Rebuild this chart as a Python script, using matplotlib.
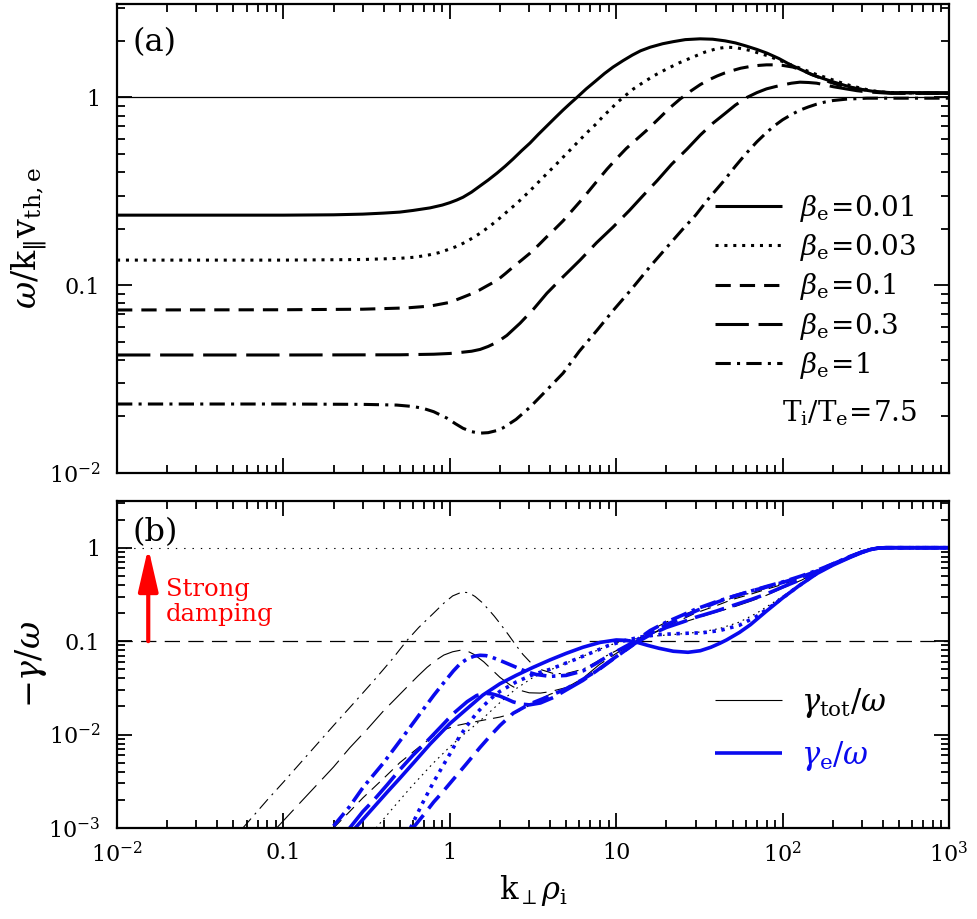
import numpy as np
import matplotlib.pyplot as plt
from matplotlib.ticker import LogLocator, FuncFormatter, NullFormatter

plt.rcParams.update({'font.family': 'DejaVu Serif', 'mathtext.fontset': 'dejavuserif',
                     'lines.scale_dashes': False, 'font.size': 16,
                     'xtick.top': True, 'ytick.right': True,
                     'xtick.direction': 'in', 'ytick.direction': 'in'})

#%%
""" panel (a): omega / k_par v_th,e """
betas = ['0.01', '0.03', '0.1', '0.3', '1']

k_a1 = [0.01, 0.1, 0.2, 0.3, 0.4, 0.5, 0.6, 0.76, 0.9, 1.0, 1.1, 1.2, 1.35, 1.5, 1.7, 1.92, 2.15, 2.4,
        2.7, 3.03, 3.4, 3.8, 4.3, 4.79, 5.3, 5.81, 6.6, 7.5, 8.5, 9.57, 11, 12.5, 14, 16, 19, 22, 26,
        31.9, 38, 45, 52, 60, 70, 80.5, 95, 110, 130, 150, 175, 201, 235, 270, 320, 369, 430, 500, 1000]
w_a1 = [0.236, 0.236, 0.237, 0.239, 0.242, 0.245, 0.250, 0.258, 0.267, 0.275, 0.284, 0.294, 0.313,
        0.335, 0.363, 0.395, 0.43, 0.47, 0.52, 0.571, 0.635, 0.70, 0.78, 0.856, 0.93, 1.0, 1.11, 1.22,
        1.34, 1.45, 1.57, 1.68, 1.77, 1.85, 1.93, 1.98, 2.03, 2.05, 2.04, 2.0, 1.95, 1.88, 1.80, 1.72,
        1.61, 1.50, 1.40, 1.32, 1.26, 1.21, 1.16, 1.12, 1.09, 1.07, 1.06, 1.06, 1.06]

k_a2 = [0.01, 0.1, 0.3, 0.5, 0.62, 0.75, 0.86, 0.96, 1.08, 1.2, 1.35, 1.52, 1.75, 2.0, 2.25, 2.53, 3.03,
        3.4, 3.8, 4.3, 4.79, 5.4, 6.0, 6.8, 7.67, 8.4, 9.2, 10, 11, 12.7, 14.5, 17, 20.2, 24, 28, 34,
        40.4, 46, 52, 58, 65, 72, 80.5, 95, 110, 130, 161, 185, 210, 260, 321, 380, 450, 1000]
w_a2 = [0.136, 0.136, 0.137, 0.139, 0.141, 0.145, 0.149, 0.154, 0.160, 0.167, 0.177, 0.189, 0.207,
        0.228, 0.25, 0.273, 0.318, 0.353, 0.39, 0.435, 0.48, 0.535, 0.59, 0.66, 0.73, 0.80, 0.86, 0.93,
        1.0, 1.11, 1.2, 1.31, 1.42, 1.53, 1.62, 1.74, 1.82, 1.85, 1.84, 1.81, 1.77, 1.72, 1.67, 1.58,
        1.50, 1.42, 1.32, 1.27, 1.22, 1.15, 1.10, 1.07, 1.06, 1.05]

k_a3 = [0.01, 0.1, 0.3, 0.55, 0.76, 1.0, 1.2, 1.35, 1.5, 1.7, 1.92, 2.15, 2.4, 2.7, 3.03, 3.4, 3.8, 4.3,
        4.79, 5.5, 6.3, 7.5, 8.8, 10, 11.5, 13.3, 15.3, 18, 21, 24.2, 28, 32, 36, 40.4, 45, 50, 56,
        63.7, 72, 80, 90, 100, 115, 130, 145, 161, 190, 220, 270, 321, 380, 450, 1000]
w_a3 = [0.0738, 0.0740, 0.0745, 0.0757, 0.0774, 0.081, 0.0863, 0.090, 0.094, 0.10, 0.106, 0.115,
        0.125, 0.136, 0.148, 0.163, 0.18, 0.20, 0.22, 0.253, 0.29, 0.35, 0.415, 0.47, 0.535, 0.60,
        0.67, 0.77, 0.88, 0.98, 1.08, 1.17, 1.24, 1.30, 1.35, 1.39, 1.43, 1.46, 1.48, 1.49, 1.49,
        1.48, 1.45, 1.40, 1.34, 1.29, 1.21, 1.16, 1.12, 1.09, 1.07, 1.06, 1.05]

k_a4 = [0.01, 0.1, 0.5, 0.8, 1.0, 1.2, 1.35, 1.52, 1.7, 1.92, 2.2, 2.64, 3.2, 3.83, 4.8, 6.06, 7.6,
        9.57, 12, 14.5, 17.6, 21.5, 26.6, 32, 38.2, 45, 52, 61.1, 70, 80, 90, 100, 113, 127, 143, 160,
        180, 201, 240, 280, 321, 380, 450, 1000]
w_a4 = [0.0425, 0.0425, 0.0426, 0.0429, 0.0433, 0.044, 0.0445, 0.0455, 0.0472, 0.0497, 0.054, 0.0627,
        0.075, 0.0906, 0.111, 0.136, 0.168, 0.204, 0.25, 0.30, 0.36, 0.44, 0.53, 0.63, 0.73, 0.82,
        0.91, 1.0, 1.06, 1.11, 1.14, 1.165, 1.19, 1.205, 1.20, 1.19, 1.165, 1.14, 1.11, 1.085, 1.07,
        1.06, 1.05, 1.05]

k_a5 = [0.01, 0.1, 0.3, 0.48, 0.6, 0.69, 0.8, 0.96, 1.08, 1.2, 1.35, 1.52, 1.7, 1.9, 2.09, 2.5, 3.03,
        3.8, 4.79, 6.0, 7.67, 9.6, 12.2, 14, 16, 20, 25, 30, 36, 43.8, 52, 60, 70, 80, 90, 100, 113,
        127, 143, 160, 180, 201, 240, 321, 1000]
w_a5 = [0.0233, 0.0233, 0.0232, 0.0230, 0.0226, 0.0221, 0.0212, 0.0196, 0.0183, 0.0173, 0.0166,
        0.0163, 0.0164, 0.0168, 0.0174, 0.0193, 0.0224, 0.0275, 0.034, 0.0445, 0.0576, 0.0735, 0.094,
        0.109, 0.126, 0.158, 0.198, 0.236, 0.29, 0.355, 0.43, 0.50, 0.58, 0.65, 0.71, 0.76, 0.81, 0.855,
        0.89, 0.92, 0.945, 0.962, 0.978, 0.99, 0.99]

#%%
""" panel (b): damping rates, gamma_tot (thin black) and gamma_e (thick blue) """
k_e1 = [0.27, 0.35, 0.42, 0.5, 0.6, 0.76, 1.0, 1.25, 1.58, 2.0, 2.5, 3.17, 4.0, 5.0, 6.3, 8.0, 10,
        11.5, 13.4, 15.5, 18, 22, 27, 32, 37, 42, 46, 55, 64, 80, 100, 125, 161, 200, 255, 300, 340,
        380, 420, 1000]
g_e1 = [0.001, 0.00168, 0.00242, 0.0034, 0.0049, 0.0079, 0.0131, 0.0185, 0.0265, 0.035, 0.043,
        0.0525, 0.063, 0.074, 0.086, 0.097, 0.103, 0.102, 0.097, 0.09, 0.084, 0.078, 0.076, 0.079,
        0.086, 0.095, 0.103, 0.124, 0.15, 0.21, 0.29, 0.39, 0.53, 0.65, 0.79, 0.89, 0.96, 0.995, 1.0, 1.0]
k_t1 = k_e1
g_t1 = g_e1

k_e2 = [0.58, 0.68, 0.79, 0.9, 1.0, 1.13, 1.27, 1.45, 1.6, 1.8, 2.0, 2.5, 3.17, 4.0, 4.6, 5.7, 7.2, 9,
        11.6, 14.5, 18.5, 25, 33, 42, 55, 70, 88, 105, 120, 140, 165, 200, 255, 300, 340, 380, 420, 1000]
g_e2 = [0.001, 0.0018, 0.003, 0.0045, 0.0062, 0.0092, 0.0125, 0.017, 0.0205, 0.025, 0.029, 0.0365,
        0.044, 0.05, 0.055, 0.064, 0.076, 0.09, 0.103, 0.112, 0.118, 0.121, 0.123, 0.13, 0.148, 0.185,
        0.245, 0.31, 0.37, 0.45, 0.55, 0.66, 0.8, 0.9, 0.96, 0.995, 1.0, 1.0]
k_t2 = [0.36, 0.45, 0.58, 0.79, 1.0, 1.2, 1.37, 1.65, 2.0, 2.5, 3.17, 4.0, 4.6, 5.7, 7.2, 9, 11.6, 14.5,
        18.5, 25, 33, 42, 55, 70, 88, 105, 120, 140, 165, 200, 255, 300, 340, 380, 420, 1000]
g_t2 = [0.001, 0.0016, 0.0027, 0.0049, 0.0074, 0.0099, 0.012, 0.016, 0.022, 0.031, 0.041, 0.049, 0.055,
        0.064, 0.076, 0.09, 0.103, 0.11, 0.115, 0.12, 0.126, 0.137, 0.16, 0.2, 0.26, 0.32, 0.38, 0.46,
        0.55, 0.66, 0.8, 0.9, 0.96, 0.995, 1.0, 1.0]

k_e3 = [0.6, 0.7, 0.8, 0.9, 1.0, 1.25, 1.52, 1.75, 2.0, 2.4, 2.8, 3.17, 4.0, 5.0, 6.3, 7.9, 10, 13, 16,
        20, 25, 30, 40, 50, 65, 80, 100, 130, 160, 200, 255, 300, 340, 380, 420, 1000]
g_e3 = [0.001, 0.0014, 0.0019, 0.0024, 0.003, 0.0048, 0.0073, 0.0097, 0.0125, 0.0169, 0.0197, 0.022,
        0.026, 0.031, 0.039, 0.05, 0.068, 0.095, 0.12, 0.15, 0.18, 0.21, 0.26, 0.30, 0.345, 0.38, 0.425,
        0.49, 0.56, 0.67, 0.8, 0.9, 0.96, 0.995, 1.0, 1.0]
k_t3 = [0.2, 0.25, 0.3, 0.4, 0.5, 0.65, 0.8, 0.95, 1.1, 1.27, 1.6, 2.0, 2.5, 2.9, 3.3, 4.0, 5.0, 6.3,
        7.9, 10, 13, 16, 20, 25, 30, 40, 50, 65, 80, 100, 130, 160, 200, 255, 300, 340, 380, 420, 1000]
g_t3 = [0.001, 0.0015, 0.0021, 0.0034, 0.005, 0.0073, 0.0097, 0.0115, 0.0125, 0.0132, 0.0143, 0.0154,
        0.0172, 0.0198, 0.0228, 0.027, 0.031, 0.039, 0.05, 0.068, 0.094, 0.117, 0.145, 0.172, 0.2, 0.24,
        0.28, 0.32, 0.36, 0.405, 0.48, 0.55, 0.66, 0.8, 0.9, 0.96, 0.995, 1.0, 1.0]

k_e4 = [0.25, 0.3, 0.35, 0.42, 0.5, 0.6, 0.72, 0.87, 1.05, 1.27, 1.45, 1.62, 1.8, 2.0, 2.2, 2.4, 2.7,
        3.0, 3.5, 4.2, 5.0, 6.3, 7.6, 9, 11, 13, 16, 20, 25, 30, 40, 50, 65, 80, 100, 130, 160, 200,
        255, 300, 340, 380, 420, 1000]
g_e4 = [0.001, 0.0015, 0.002, 0.0029, 0.0042, 0.006, 0.0083, 0.0118, 0.0168, 0.0225, 0.0262, 0.0277,
        0.0272, 0.0258, 0.024, 0.0224, 0.0212, 0.0208, 0.0218, 0.025, 0.03, 0.038, 0.048, 0.06, 0.077,
        0.095, 0.117, 0.14, 0.16, 0.18, 0.21, 0.24, 0.28, 0.32, 0.38, 0.46, 0.55, 0.66, 0.8, 0.9, 0.96,
        0.995, 1.0, 1.0]
k_t4 = [0.091, 0.12, 0.15, 0.2, 0.25, 0.32, 0.4, 0.48, 0.55, 0.64, 0.73, 0.82, 0.92, 1.04, 1.16, 1.28,
        1.4, 1.6, 1.8, 2.0, 2.3, 2.6, 3.0, 3.5, 4.0, 5.05, 6.3, 7.9, 10, 13, 16, 20, 25, 30, 40, 50, 65,
        80, 100, 130, 160, 200, 255, 300, 340, 380, 420, 1000]
g_t4 = [0.001, 0.0017, 0.0026, 0.0045, 0.0072, 0.0115, 0.018, 0.025, 0.032, 0.042, 0.0525, 0.062,
        0.071, 0.077, 0.080, 0.078, 0.072, 0.060, 0.049, 0.041, 0.034, 0.030, 0.028, 0.0278, 0.0288,
        0.032, 0.04, 0.056, 0.074, 0.097, 0.118, 0.14, 0.158, 0.175, 0.205, 0.23, 0.27, 0.31, 0.37,
        0.45, 0.55, 0.66, 0.8, 0.9, 0.96, 0.995, 1.0, 1.0]

k_e5 = [0.2, 0.25, 0.3, 0.4, 0.5, 0.65, 0.8, 0.92, 1.05, 1.16, 1.28, 1.4, 1.52, 1.65, 1.8, 2.1, 2.5,
        2.9, 3.3, 4.0, 5.0, 6.3, 7.6, 9, 11, 13, 16, 20, 25, 30, 40, 50, 65, 80, 100, 130, 160, 200,
        255, 300, 340, 380, 420, 1000]
g_e5 = [0.00105, 0.0017, 0.0027, 0.005, 0.0085, 0.016, 0.0263, 0.036, 0.048, 0.058, 0.065, 0.069,
        0.0706, 0.070, 0.067, 0.060, 0.0526, 0.047, 0.044, 0.042, 0.043, 0.048, 0.058, 0.07, 0.085, 0.1,
        0.13, 0.16, 0.19, 0.22, 0.265, 0.3, 0.345, 0.385, 0.43, 0.5, 0.57, 0.67, 0.81, 0.9, 0.96, 0.995,
        1.0, 1.0]
k_t5 = [0.057, 0.08, 0.1, 0.14, 0.2, 0.27, 0.35, 0.45, 0.553, 0.65, 0.8, 0.92, 1.04, 1.18, 1.3, 1.42,
        1.56, 1.7, 1.85, 2.0, 2.25, 2.5, 2.75, 3.03, 3.3, 3.6, 4.2, 5.0, 6.3, 7.6, 9, 11, 13, 16, 20,
        25, 30, 40, 50, 65, 80, 100, 130, 160, 200, 255, 300, 340, 380, 420, 1000]
g_t5 = [0.001, 0.002, 0.0031, 0.0061, 0.0125, 0.0226, 0.038, 0.064, 0.102, 0.14, 0.2, 0.255, 0.305,
        0.335, 0.33, 0.30, 0.26, 0.22, 0.185, 0.155, 0.117, 0.09, 0.072, 0.06, 0.053, 0.049, 0.045,
        0.045, 0.05, 0.06, 0.072, 0.086, 0.1, 0.13, 0.16, 0.19, 0.215, 0.255, 0.29, 0.33, 0.37, 0.42,
        0.49, 0.56, 0.66, 0.8, 0.9, 0.96, 0.995, 1.0, 1.0]

k_arrow = 0.0154

#%%
""" line styles (points) """
ls_thick = [(0, ()), (0, (2.2, 4.2)), (0, (11, 6.5)), (0, (24, 7)), (0, (11, 4.5, 2.2, 4.5))]
ls_blue = [(0, ()), (0, (2.5, 4)), (0, (12, 6)), (0, (22, 6)), (0, (12, 4, 2.5, 4))]
ls_thin = [(0, ()), (0, (1.2, 3)), (0, (8, 5)), (0, (18, 6)), (0, (9, 4, 1.5, 4))]
blue = '#0a0aee'


def fmt(v, pos):
    if np.isclose(v, 1):
        return '1'
    if np.isclose(v, 0.1):
        return '0.1'
    if np.isclose(v, 10):
        return '10'
    return r'$10^{%d}$' % int(round(np.log10(v)))


def style(ax):
    ax.set_xscale('log')
    ax.set_yscale('log')
    ax.set_xlim(0.01, 1000)
    for a in (ax.xaxis, ax.yaxis):
        a.set_major_locator(LogLocator(10, numticks=20))
        a.set_minor_locator(LogLocator(10, subs=np.arange(2, 10), numticks=20))
        a.set_major_formatter(FuncFormatter(fmt))
        a.set_minor_formatter(NullFormatter())
    ax.tick_params(which='major', length=11, width=1.3)
    ax.tick_params(which='minor', length=5.5, width=1.3)
    ax.tick_params(axis='x', pad=10)
    ax.tick_params(axis='y', pad=12)
    for s in ax.spines.values():
        s.set_linewidth(1.6)


fig = plt.figure(figsize=(9.77, 9.19), dpi=100)
ax1 = fig.add_axes([0.1198, 0.4853, 0.8516, 0.5103])
ax2 = fig.add_axes([0.1198, 0.0990, 0.8516, 0.3558])

#%%
style(ax1)
ax1.set_ylim(0.01, 3.14)
ax1.axhline(1, color='k', lw=0.9)
ka = [k_a1, k_a2, k_a3, k_a4, k_a5]
wa = [w_a1, w_a2, w_a3, w_a4, w_a5]
for i in range(5):
    ax1.plot(ka[i], wa[i], color='k', lw=2.2, ls=ls_thick[i], label=r'$\beta_{\mathrm{e}}\!=\!%s$' % betas[i])
ax1.tick_params(axis='x', labelbottom=False)
ax1.set_ylabel(r'$\omega/\mathrm{k}_{\Vert}\mathrm{v}_{\mathrm{th,e}}$', fontsize=24)
ax1.yaxis.set_label_coords(-0.082, 0.5)
ax1.legend(loc='upper left', bbox_to_anchor=(0.719, 0.598), frameon=False, fontsize=20,
           handlelength=2.4, handletextpad=0.65, labelspacing=0.3, borderpad=0, borderaxespad=0)
ax1.text(0.962, 0.128, r'$\mathrm{T_i/T_e\!=\!7.5}$', transform=ax1.transAxes, ha='right', va='center', fontsize=20)
ax1.text(0.019, 0.917, '(a)', transform=ax1.transAxes, ha='left', va='center', fontsize=23)

#%%
style(ax2)
ax2.set_ylim(0.001, 3.16)
ax2.axhline(1, color='k', lw=0.8, ls=(0, (1, 5)))
ax2.axhline(0.1, color='k', lw=0.9, ls=(0, (11, 6)))
kt = [k_t1, k_t2, k_t3, k_t4, k_t5]
gt = [g_t1, g_t2, g_t3, g_t4, g_t5]
ke = [k_e1, k_e2, k_e3, k_e4, k_e5]
ge = [g_e1, g_e2, g_e3, g_e4, g_e5]
tot_lines, e_lines = [], []
for i in range(5):
    tot_lines += ax2.plot(kt[i], gt[i], color='k', lw=0.8, ls=ls_thin[i])
for i in range(5):
    e_lines += ax2.plot(ke[i], ge[i], color=blue, lw=2.6, ls=ls_blue[i])
ax2.annotate('', xy=(k_arrow, 1), xytext=(k_arrow, 0.1),
             arrowprops=dict(arrowstyle='-|>,head_length=1.3,head_width=0.3', color='red', lw=3,
                             mutation_scale=20, shrinkA=0, shrinkB=0))
ax2.text(0.0197, 0.262, 'Strong\ndamping', color='red', fontsize=17.5, ha='left', va='center', linespacing=1.15)
ax2.text(0.019, 0.905, '(b)', transform=ax2.transAxes, ha='left', va='center', fontsize=23)
ax2.legend([tot_lines[0], e_lines[0]], [r'$\gamma_{\mathrm{tot}}/\omega$', r'$\gamma_{\mathrm{e}}/\omega$'],
           loc='upper left', bbox_to_anchor=(0.719, 0.435), frameon=False, fontsize=22,
           handlelength=2.2, handletextpad=0.59, labelspacing=0.62, borderpad=0, borderaxespad=0,
           labelcolor=['k', blue])
ax2.set_ylabel(r'$-\gamma/\omega$', fontsize=24)
ax2.yaxis.set_label_coords(-0.082, 0.5)
ax2.set_xlabel(r'$\mathrm{k}_{\perp}\rho_{\mathrm{i}}$', fontsize=22)

plt.savefig('out.png', dpi=100)
